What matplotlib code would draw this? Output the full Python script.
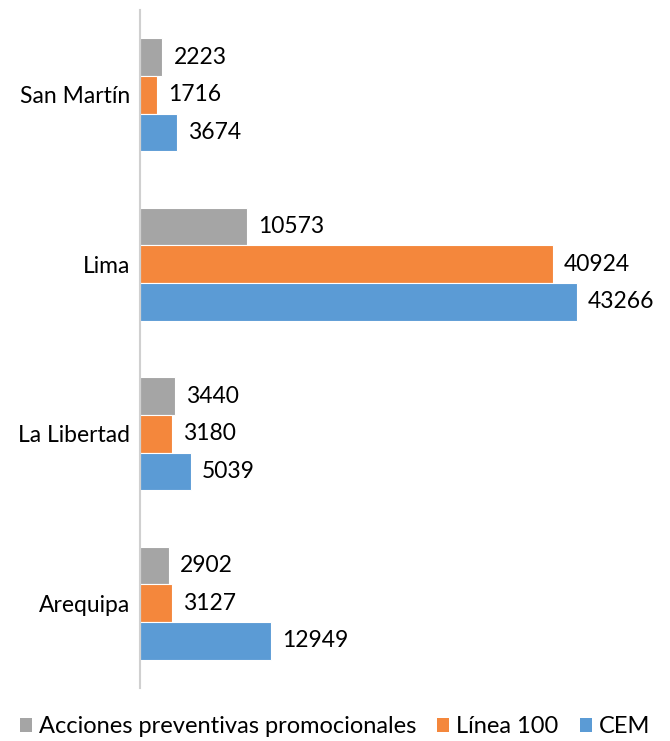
import matplotlib
matplotlib.use("Agg")
import matplotlib.pyplot as plt
import numpy as np
from matplotlib.patches import Patch

plt.rcParams['font.family'] = ['Lato', 'DejaVu Sans']

categories = ["Arequipa", "La Libertad", "Lima", "San Martín"]
acciones = [2902, 3440, 10573, 2223]
linea100 = [3127, 3180, 40924, 1716]
cem = [12949, 5039, 43266, 3674]
series_names = ["Acciones preventivas promocionales", "Línea 100", "CEM"]
colors = ["#a5a5a5", "#f4873c", "#5b9bd5"]

fig = plt.figure(figsize=(6.7, 7.41), dpi=100)
ax = fig.add_axes([0.209, 0.0715, 0.75, 0.915])

y = np.arange(len(categories))
h = 0.222
series = [acciones, linea100, cem]
offsets = [h, 0, -h]
for vals, off, c in zip(series, offsets, colors):
    bars = ax.barh(y + off, vals, height=h, color=c, edgecolor="white", linewidth=0.8)
    for b, v in zip(bars, vals):
        ax.annotate(str(v), (b.get_width(), b.get_y() + b.get_height() / 2),
                    xytext=(11, 0), textcoords="offset pixels",
                    va="center", ha="left", fontsize=16.5, color="#000000")

ax.set_xlim(0, 49800)
ax.set_ylim(-0.5, 3.5)
ax.set_yticks(y)
ax.set_yticklabels(categories, fontsize=16.5)
ax.tick_params(axis="y", length=0, pad=7)
ax.set_xticks([])
for s in ["top", "right", "bottom"]:
    ax.spines[s].set_visible(False)
ax.spines["left"].set_color("#d0d0d0")
ax.spines["left"].set_linewidth(1.5)

handles = [Patch(facecolor=c, edgecolor="none") for c in colors]
fig.legend(handles, series_names, loc="center", bbox_to_anchor=(0.5, 0.019),
           ncol=3, frameon=False, fontsize=17, handlelength=0.5, handleheight=0.5,
           handletextpad=0.3, columnspacing=0.9)

fig.savefig("out.png", dpi=100)
